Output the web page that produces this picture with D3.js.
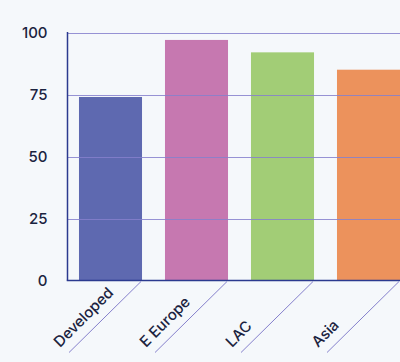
<!DOCTYPE html>
<html><head><meta charset="utf-8">
<script src="https://cdn.jsdelivr.net/npm/d3@7"></script>
<style>
html,body{margin:0;padding:0;background:#f5f8fb;}
svg{display:block;font-family:Inter,"Noto Sans",sans-serif;}
</style></head>
<body>
<svg id="c" width="400" height="362"></svg>
<script>
const categories = ["Developed", "E Europe", "LAC", "Asia"];
const values = [74, 97, 92, 85];
const colors = ["#5e69b0", "#c678b0", "#a2cd76", "#ec925c"];
const yTicks = [0, 25, 50, 75, 100];

(function () {
const svg = d3.select("#c");
const mLeft = 67.5, mBottom = 280.5, mTop = 32.5;
const x = d3.scaleBand().domain(categories).range([mLeft, mLeft + 86 * 4]).paddingInner(0.267).paddingOuter(0.1335);
const y = d3.scaleLinear().domain([0, 100]).range([mBottom, mTop]);

svg.append("rect").attr("width", 400).attr("height", 362).attr("fill", "#f5f8fb");

// bars
svg.selectAll("rect.bar").data(categories).join("rect").attr("class", "bar")
  .attr("x", d => x(d)).attr("width", x.bandwidth())
  .attr("y", (d, i) => y(values[i])).attr("height", (d, i) => y(0) - y(values[i]))
  .attr("fill", (d, i) => colors[i]);

// gridlines
svg.selectAll("line.grid").data(yTicks.filter(t => t > 0)).join("line").attr("class", "grid")
  .attr("x1", mLeft).attr("x2", 420)
  .attr("y1", d => Math.round(y(d)) + 0.5).attr("y2", d => Math.round(y(d)) + 0.5)
  .attr("stroke", "#8580cc").attr("stroke-opacity", 0.85).attr("stroke-width", 1.2);

// y axis
const yAxis = d3.axisLeft(y).tickValues(yTicks).tickSize(0).tickPadding(20);
const ga = svg.append("g").attr("transform", `translate(${mLeft},0)`).call(yAxis);
ga.select(".domain").remove();
ga.selectAll("text").attr("font-size", 15).attr("font-weight", 500).attr("fill", "#1b2340").attr("font-family", "Inter, sans-serif");

// axis lines
svg.append("line").attr("x1", mLeft).attr("x2", mLeft).attr("y1", mTop - 0.5).attr("y2", mBottom).attr("stroke", "#2b3a8f").attr("stroke-width", 1.5);
svg.append("line").attr("x1", mLeft - 0.75).attr("x2", 420).attr("y1", mBottom).attr("y2", mBottom).attr("stroke", "#2b3a8f").attr("stroke-width", 1.5);

// x labels with diagonal ticks
const gx = svg.selectAll("g.xl").data(categories).join("g").attr("class", "xl");
gx.append("line")
  .attr("x1", d => x(d) + x.bandwidth() - 1).attr("y1", mBottom + 1)
  .attr("x2", d => x(d) + x.bandwidth() - 73).attr("y2", mBottom + 72)
  .attr("stroke", "#8580cc").attr("stroke-width", 1);
gx.append("text")
  .attr("transform", d => `translate(${x(d) - 19},${348}) rotate(-45)`)
  .attr("text-anchor", "start")
  .attr("font-size", 15).attr("font-weight", 500).attr("fill", "#1b2340")
  .text(d => d);
})();
</script>
</body></html>
